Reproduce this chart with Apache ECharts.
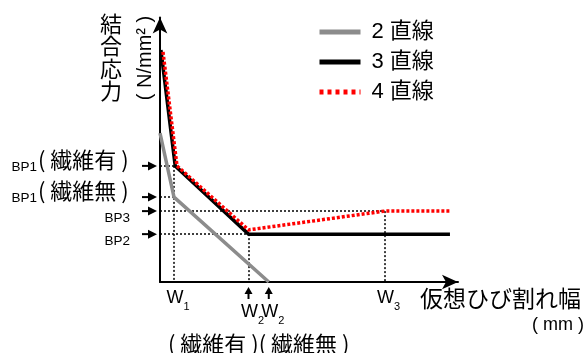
<!DOCTYPE html>
<html><head><meta charset="utf-8">
<script src="https://cdn.jsdelivr.net/npm/echarts@6/dist/echarts.min.js"></script>
<style>html,body{margin:0;padding:0;background:#fff}#c{width:587px;height:353px}</style>
</head><body><div id="c"></div>
<script>
// Schematic units. x: 仮想ひび割れ幅, y: 結合応力
const seriesNames = ['2 直線', '3 直線', '4 直線'];
const line2 = [[0, 56.3], [4.7, 32.1], [36.5, 0]];
const line3 = [[0.3, 87.7], [5.1, 43.9], [29.7, 18.1], [97.3, 18.1]];
const line4 = [[1.0, 87.0], [5.7, 43.9], [29.7, 19.7], [75.3, 26.8], [97.3, 26.8]];
const wSubs = ['1', '2', '2', '3'];
const wValues = [4.7, 29.7, 36.5, 75.3];
const wNote = '( 繊維有 )( 繊維無 )';
const bpNames = ['BP1', 'BP1', 'BP3', 'BP2'];
const bpNotes = ['( 繊維有 )', '( 繊維無 )', '', ''];
const bpValues = [43.9, 32.1, 26.8, 18.1];
// guide lines: horizontal [bpIndex, wIndex], vertical [wIndex, bpIndex]
const hGuides = [[0, 0], [1, 0], [2, 3], [3, 1]];
const vGuides = [[0, 0], [1, 3], [3, 2]];
const yTitle = '結合応力';
const yUnit = '( N/mm² )';
const xTitle = '仮想ひび割れ幅';
const xUnit = '( mm )';

const LAT = '"Liberation Sans", Arial, sans-serif';
const CJK = '"Noto Sans CJK JP", sans-serif';
const MIX = '"Liberation Sans", "Noto Sans CJK JP", sans-serif';

const colors = ['#8c8c8c', '#000000', '#ff0000'];
const chart = echarts.init(document.getElementById('c'), null, {renderer: 'canvas'});

const guideLines = [];
hGuides.forEach(([b, w]) => guideLines.push([{coord: [0, bpValues[b]]}, {coord: [wValues[w], bpValues[b]]}]));
vGuides.forEach(([w, b]) => guideLines.push([{coord: [wValues[w], bpValues[b]]}, {coord: [wValues[w], 0]}]));

const axisCommon = {
  type: 'value', min: 0, max: 100,
  axisLine: {show: true, lineStyle: {color: '#000', width: 2}, symbol: ['none', 'arrow'], symbolSize: [11, 16]},
  axisTick: {show: false}, axisLabel: {show: false}, splitLine: {show: false}
};

chart.setOption({
  animation: false,
  backgroundColor: '#fff',
  grid: {left: 160, right: 129, top: 17.5, bottom: 71},
  xAxis: Object.assign({}, axisCommon),
  yAxis: Object.assign({}, axisCommon),
  legend: {
    orient: 'vertical', left: 312, top: 16, itemWidth: 41, itemHeight: 22, itemGap: 8,
    itemStyle: {opacity: 0},
    data: [
      {name: seriesNames[0], lineStyle: {color: colors[0], width: 5, type: 'solid'}},
      {name: seriesNames[1], lineStyle: {color: colors[1], width: 5, type: 'solid'}},
      {name: seriesNames[2], lineStyle: {color: colors[2], width: 5, type: [4, 4]}}
    ],
    textStyle: {fontSize: 22, lineHeight: 22, fontFamily: MIX, color: '#000', padding: [0, 0, 0, 6]}
  },
  series: [
    {name: seriesNames[0], type: 'line', data: line2, symbol: 'none', z: 3,
     lineStyle: {color: colors[0], width: 3.5}, itemStyle: {color: colors[0]}},
    {name: seriesNames[1], type: 'line', data: line3, symbol: 'none', z: 4,
     lineStyle: {color: colors[1], width: 3.5}, itemStyle: {color: colors[1]},
     markLine: {silent: true, symbol: 'none', label: {show: false}, z: 2,
       lineStyle: {color: '#000', width: 1.5, type: [2, 2]}, data: guideLines}},
    {name: seriesNames[2], type: 'line', data: line4, symbol: 'none', z: 5,
     lineStyle: {color: colors[2], width: 3.5, type: [3, 2]}, itemStyle: {color: colors[2]}}
  ]
});

function px(x, y) { return chart.convertToPixel({gridIndex: 0}, [x, y]); }
const g = [];
function arrowRight(tip, y) {
  g.push({type: 'line', shape: {x1: tip - 15, y1: y, x2: tip - 7, y2: y}, style: {stroke: '#000', lineWidth: 2}});
  g.push({type: 'polygon', shape: {points: [[tip, y], [tip - 9, y - 4.5], [tip - 9, y + 4.5]]}, style: {fill: '#000'}});
}
function arrowUp(x, tipY) {
  g.push({type: 'line', shape: {x1: x, y1: tipY + 6, x2: x, y2: tipY + 12}, style: {stroke: '#000', lineWidth: 2}});
  g.push({type: 'polygon', shape: {points: [[x, tipY], [x - 4, tipY + 7], [x + 4, tipY + 7]]}, style: {fill: '#000'}});
}
function text(x, y, t, font, size, align, extra) {
  g.push(Object.assign({type: 'text', x: x, y: y, z: 10,
    style: {text: t, fontFamily: font, fontSize: size, fill: '#000', align: align || 'left', verticalAlign: 'middle'}}, extra || {}));
}

const origin = px(0, 0);
bpValues.forEach((v, i) => {
  const y = px(0, v)[1];
  arrowRight(origin[0] - 3, y);
  if (bpNotes[i]) {
    text(37, y + 1, bpNames[i], LAT, 13.5, 'right');
    text(38, y - 6, bpNotes[i], CJK, 22, 'left');
  } else {
    text(130, y + 7.5, bpNames[i], LAT, 13.5, 'right');
  }
});

wValues.forEach((v, i) => {
  const x = px(v, 0)[0];
  const low = (i === 1 || i === 2);
  const cy = origin[1] + (low ? 30 : 16);
  if (low) arrowUp(x, origin[1] + 5);
  text(x - 7.5, cy, 'W', LAT, 18, 'left');
  text(x + 9.5, cy + 9, wSubs[i], LAT, 11, 'left');
});
const w2a = px(wValues[1], 0)[0], w2b = px(wValues[2], 0)[0];
text((w2a + w2b) / 2, origin[1] + 62, wNote, CJK, 22, 'center');

text(420, origin[1] + 16, xTitle, CJK, 23, 'left');
text(584, origin[1] + 43, xUnit, LAT, 18, 'right');

g.push({type: 'text', x: 111, y: 12, z: 10,
  style: {text: yTitle.split('').join('\n'), fontFamily: CJK, fontSize: 22, lineHeight: 22.5, fill: '#000', align: 'center', verticalAlign: 'top'}});
text(145, 58, yUnit, LAT, 20, 'center', {rotation: Math.PI / 2});

chart.setOption({graphic: g});
</script>
</body></html>
